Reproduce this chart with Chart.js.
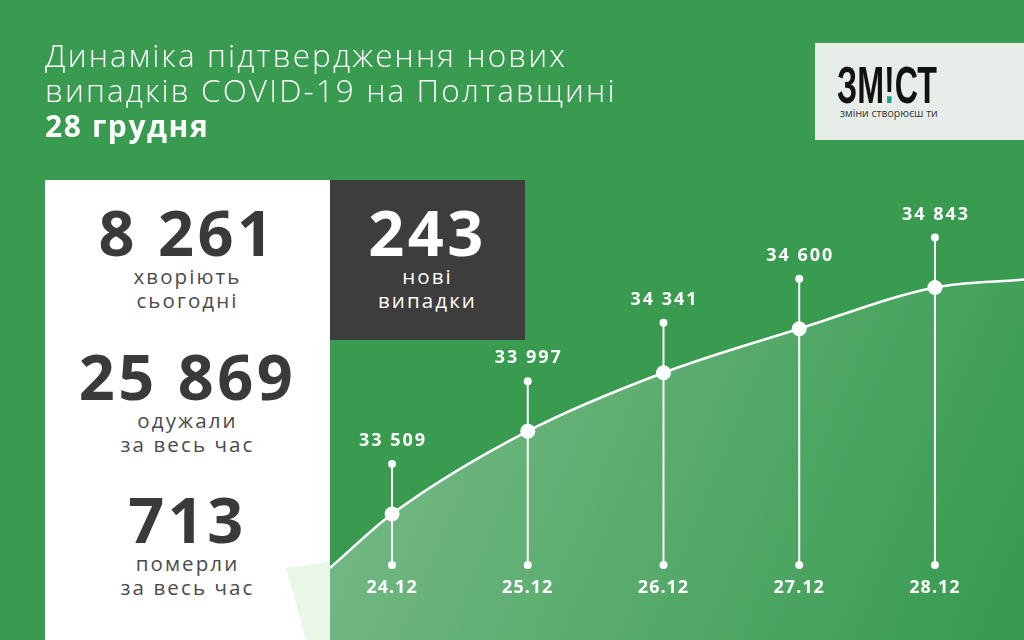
<!DOCTYPE html>
<html>
<head>
<meta charset="utf-8">
<script src="https://cdn.jsdelivr.net/npm/chart.js@4.4.0/dist/chart.umd.min.js"></script>
<style>
  html, body { margin:0; padding:0; }
  body { width:1024px; height:640px; overflow:hidden; position:relative; background:#389b50; font-family:"Open Sans", "Noto Sans", sans-serif; }
  #c { position:absolute; left:0; top:0; }
  .title { position:absolute; left:45px; top:37px; color:#fff; font-size:31.5px; line-height:35px; font-weight:300; letter-spacing:2.1px; white-space:nowrap; }
  .title b { font-weight:700; letter-spacing:1.6px; font-size:30px; }
  .logo { position:absolute; left:815px; top:43px; width:209px; height:97px; background:#e7eee9; }
  .logo .word { position:absolute; left:22px; top:16px; font-family:"Liberation Sans","DejaVu Sans",sans-serif; font-weight:700; font-size:52px; line-height:52px; color:#111; letter-spacing:0px; transform:scaleX(0.62); transform-origin:0 0; white-space:nowrap; }
  .logo .word span { background:linear-gradient(to bottom, #111 0 67%, #1ca585 67% 100%); -webkit-background-clip:text; background-clip:text; color:transparent; }
  .logo .sub { position:absolute; left:25px; top:63px; font-size:10.5px; color:#333; font-family:"Open Sans",sans-serif; }
  .panel { position:absolute; left:45px; top:180px; width:285px; height:460px; background:#ffffff; }
  .glow { position:absolute; left:0; top:0; width:1024px; height:640px; pointer-events:none;
          clip-path:polygon(286px 568px, 330px 562px, 330px 640px, 306px 640px);
          background:linear-gradient(100deg, rgba(225,245,222,0.15) 285px, rgba(215,240,210,0.55) 330px); }
  .dark { position:absolute; left:330px; top:180px; width:195px; height:160px; background:#3d3d3d; }
  .stat { position:absolute; width:285px; text-align:center; color:#3a3a3a; }
  .num { font-weight:700; font-size:63px; line-height:66px; letter-spacing:3.5px; }
  .lab { font-size:20.5px; line-height:23.5px; letter-spacing:2.1px; color:#4a4a4a; }
  .dark .stat { width:195px; color:#fff; }
  .dark .lab { color:#fff; }
</style>
</head>
<body>
<canvas id="c" width="1024" height="640"></canvas>

<div class="title">Динаміка підтвердження нових<br>випадків COVID-19 на Полтавщині<br><b>28 грудня</b></div>

<div class="logo">
  <div class="word">ЗМ<span>!</span>СТ</div>
  <div class="sub">зміни створюєш ти</div>
</div>

<div class="panel">
  <div class="stat" style="left:0; top:19px;"><div class="num">8 261</div><div class="lab">хворіють<br>сьогодні</div></div>
  <div class="stat" style="left:0; top:163px;"><div class="num">25 869</div><div class="lab">одужали<br>за весь час</div></div>
  <div class="stat" style="left:0; top:306px;"><div class="num">713</div><div class="lab">померли<br>за весь час</div></div>
</div>
<div class="glow"></div>
<div class="dark">
  <div class="stat" style="left:0; top:19px;"><div class="num">243</div><div class="lab">нові<br>випадки</div></div>
</div>

<script>
// ---- data ----
const dates = ["24.12", "25.12", "26.12", "27.12", "28.12"];
const cases = [33509, 33997, 34341, 34600, 34843];
// where the decorative curve meets the left and right edges
const curveStartValue = 33191;
const curveEndValue = 34890;
// axis ranges
const xMin = -0.457, xMax = 4.656;
const yMin = 32767, yMax = 36536;

const fmt = v => String(v).replace(/\B(?=(\d{3})+(?!\d))/g, " ");

const curveData = [{x: xMin, y: curveStartValue}]
  .concat(cases.map((v, i) => ({x: i, y: v})))
  .concat([{x: xMax, y: curveEndValue}]);

const markers = {
  id: "markers",
  afterDatasetsDraw(chart) {
    const c = chart.ctx;
    const meta = chart.getDatasetMeta(0);
    const bottom = chart.chartArea.bottom - 75;
    c.save();
    for (let i = 0; i < cases.length; i++) {
      const p = meta.data[i + 1];
      const top = p.y - 50;
      c.strokeStyle = "#ffffff";
      c.lineWidth = 2;
      c.beginPath(); c.moveTo(p.x, top); c.lineTo(p.x, bottom); c.stroke();
      c.fillStyle = "#ffffff";
      c.beginPath(); c.arc(p.x, top, 4, 0, Math.PI * 2); c.fill();
      c.beginPath(); c.arc(p.x, bottom, 4, 0, Math.PI * 2); c.fill();
      c.beginPath(); c.arc(p.x, p.y, 7.5, 0, Math.PI * 2); c.fill();
      c.font = "700 18px 'Open Sans', sans-serif";
      c.textAlign = "center";
      c.textBaseline = "middle";
      c.letterSpacing = "2px";
      c.fillText(fmt(cases[i]), p.x + 1, top - 23);
      c.letterSpacing = "1px";
      c.fillText(dates[i], p.x, bottom + 23);
    }
    c.restore();
  }
};

new Chart(document.getElementById("c"), {
  type: "line",
  data: {
    datasets: [{
      data: curveData,
      borderColor: "#ffffff",
      borderWidth: 2.5,
      cubicInterpolationMode: "monotone",
      pointRadius: 0,
      fill: "start",
      backgroundColor: (ctx) => {
        const ch = ctx.chart;
        const g = ch.ctx.createLinearGradient(380, 380, 1000, 640);
        g.addColorStop(0, "rgba(255,255,255,0.30)");
        g.addColorStop(0.6, "rgba(255,255,255,0.12)");
        g.addColorStop(1, "rgba(255,255,255,0.0)");
        return g;
      }
    }]
  },
  options: {
    responsive: false,
    animation: false,
    devicePixelRatio: 1,
    layout: { padding: { left: 330, right: 0, top: 0, bottom: 0 } },
    plugins: { legend: { display: false }, tooltip: { enabled: false } },
    scales: {
      x: { type: "linear", min: xMin, max: xMax, display: false },
      y: { type: "linear", min: yMin, max: yMax, display: false }
    }
  },
  plugins: [markers]
});
</script>
</body>
</html>
